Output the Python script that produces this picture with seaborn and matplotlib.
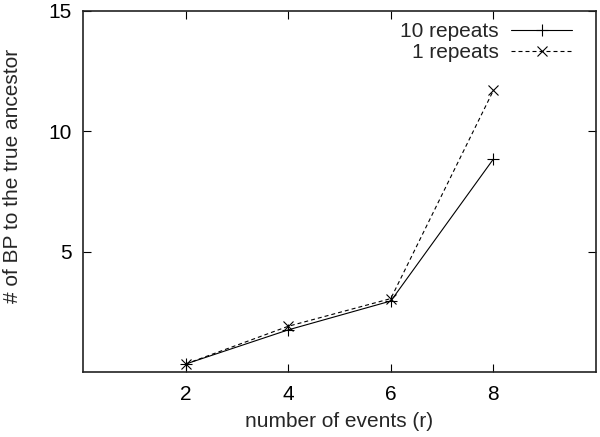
import matplotlib
matplotlib.use("Agg")
import matplotlib.pyplot as plt
import seaborn as sns
import pandas as pd

events = [2, 4, 6, 8]
repeats10 = [0.33, 1.75, 2.95, 8.85]
repeats1 = [0.33, 1.9, 3.05, 11.7]
series_names = ["10 repeats", "1 repeats"]
x_ticks = [2, 4, 6, 8]
y_ticks = [5, 10, 15]

sns.set_theme(style="ticks")
plt.rcParams['font.family'] = ['Liberation Sans', 'DejaVu Sans']

df10 = pd.DataFrame({"events": events, "value": repeats10})
df1 = pd.DataFrame({"events": events, "value": repeats1})

fig = plt.figure(figsize=(6.0, 4.37), dpi=100)
ax = fig.add_axes([83 / 600, 1 - 372 / 437, (596 - 83) / 600, (372 - 11) / 437])

sns.lineplot(data=df10, x="events", y="value", ax=ax, color="black",
             linewidth=0.8, linestyle="-", marker="+", markersize=8,
             markeredgewidth=0.8, markeredgecolor="black",
             label=series_names[0])
sns.lineplot(data=df1, x="events", y="value", ax=ax, color="black",
             linewidth=0.8, linestyle=(0, (3.6, 2.7)), marker="x", markersize=7,
             markeredgewidth=0.8, markeredgecolor="black",
             label=series_names[1])

ax.set_xlim(0, 10)
ax.set_ylim(0, 15)
ax.set_xticks(x_ticks)
ax.set_yticks(y_ticks)
ax.tick_params(direction="in", top=True, right=True, length=6, width=0.8,
               labelsize=15, colors="black")
ax.tick_params(axis="x", pad=9)
ax.tick_params(axis="y", pad=8)
for s in ax.spines.values():
    s.set_visible(True)
    s.set_linewidth(1.2)
    s.set_color("#222222")
ax.set_xlabel("number of events (r)", fontsize=15, labelpad=6)
ax.set_ylabel("# of BP to the true ancestor", fontsize=15)
ax.yaxis.set_label_coords(-0.118, 0.543)

leg = ax.legend(loc="upper right", bbox_to_anchor=(0.965, 0.986),
                frameon=False, markerfirst=False,
                fontsize=15, handlelength=2.9, borderaxespad=0.0,
                labelspacing=0.1, handletextpad=0.6, borderpad=0.3)
leg._legend_box.align = "right"

fig.savefig("out.png", dpi=100)
